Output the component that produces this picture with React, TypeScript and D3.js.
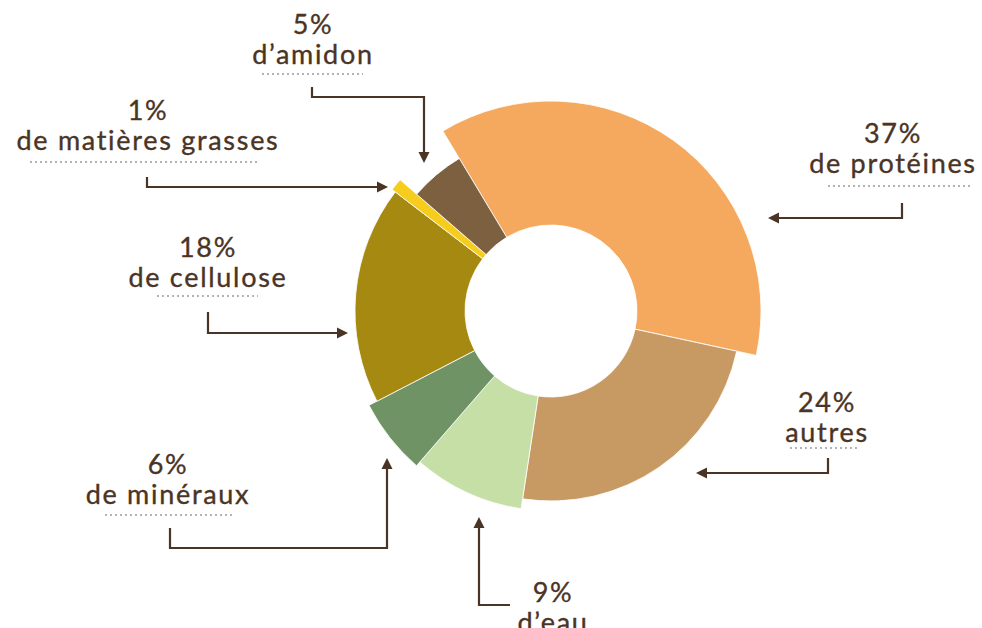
import * as d3 from 'd3';

// ---------------------------------------------------------------------------
// Data
// ---------------------------------------------------------------------------
const PERCENTS = ['37%', '24%', '9%', '6%', '18%', '1%', '5%'];
const LABELS = ['de protéines', 'autres', 'd’eau', 'de minéraux', 'de cellulose', 'de matières grasses', 'd’amidon'];
const VALUES = [37, 24, 9, 6, 18, 1, 5];

// ---------------------------------------------------------------------------
// Styles
// ---------------------------------------------------------------------------
const COLORS = ['#f5a95e', '#c79a63', '#c6dfa6', '#6f9365', '#a68911', '#f6cd1c', '#7d6040'];
const OUTER_R = [210, 190, 200, 205, 196, 200, 178];
const INNER_R = 86;
const TEXT_COLOR = '#4a3425';
const DOT_COLOR = '#9a9a9a';
const FONT = 'Lato, "Open Sans", sans-serif';

const W = 982;
const H = 628;
const CX = 551;
const CY = 311;

// annotation layout: label centre, first baseline, underline span, leader path
const ANNOTATIONS = [
  { x: 893, y: 143, ul: [828, 970, 186], path: [[902, 203], [902, 218], [768, 218]] },
  { x: 827, y: 412, ul: [790, 859, 448], path: [[828, 458], [828, 473], [696, 473]] },
  { x: 553, y: 602, ul: null, path: [[510, 605], [479, 605], [479, 517]] },
  { x: 168, y: 474, ul: [105, 235, 515], path: [[170, 528], [170, 548], [387, 548], [387, 458]] },
  { x: 208, y: 257, ul: [157, 258, 296], path: [[208, 312], [208, 333], [348, 333]] },
  { x: 148, y: 120, ul: [30, 260, 162], path: [[147, 177], [147, 187], [388, 187]] },
  { x: 313, y: 34, ul: [262, 363, 74], path: [[312, 87], [312, 97], [424, 97], [424, 163]] },
];

function Arrow({ pts }: { pts: number[][] }) {
  const line = d3.line();
  const n = pts.length;
  const [x1, y1] = pts[n - 2];
  const [x2, y2] = pts[n - 1];
  const rad = Math.atan2(y2 - y1, x2 - x1);
  const shaft = pts.slice(0, n - 1).concat([[x2 - 8 * Math.cos(rad), y2 - 8 * Math.sin(rad)]]);
  return (
    <g>
      <path d={line(shaft as [number, number][]) ?? ''} fill="none" stroke={TEXT_COLOR} strokeWidth={2.2} />
      <path
        d="M0,0 L-11,-5.5 L-11,5.5 Z"
        fill={TEXT_COLOR}
        transform={`translate(${x2},${y2}) rotate(${(rad * 180) / Math.PI})`}
      />
    </g>
  );
}

export default function App() {
  const start = (-31 * Math.PI) / 180;
  const pie = d3
    .pie<number>()
    .sort(null)
    .value((d) => d)
    .startAngle(start)
    .endAngle(start + 2 * Math.PI);
  const arcs = pie(VALUES);
  const arc = d3.arc<d3.PieArcDatum<number>>();

  return (
    <svg width={W} height={H} style={{ position: 'absolute', left: 0, top: 0, background: '#fff' }}>
      <g transform={`translate(${CX},${CY})`}>
        {arcs.map((a, i) => (
          <path
            key={LABELS[i]}
            d={arc({ ...a, innerRadius: INNER_R, outerRadius: OUTER_R[i] } as any) ?? ''}
            fill={COLORS[i]}
            stroke="#fff"
            strokeWidth={0.8}
          />
        ))}
      </g>
      {ANNOTATIONS.map((an, i) => (
        <g key={i}>
          <text
            x={an.x}
            y={an.y}
            textAnchor="middle"
            fontFamily={FONT}
            fontSize={27}
            fill={TEXT_COLOR}
            stroke={TEXT_COLOR}
            strokeWidth={0.35}
            letterSpacing={1.7}
          >
            <tspan x={an.x}>{PERCENTS[i]}</tspan>
            <tspan x={an.x} dy={30}>
              {LABELS[i]}
            </tspan>
          </text>
          {an.ul && (
            <line
              x1={an.ul[0]}
              x2={an.ul[1]}
              y1={an.ul[2]}
              y2={an.ul[2]}
              stroke={DOT_COLOR}
              strokeWidth={1.5}
              strokeDasharray="2,3"
            />
          )}
          <Arrow pts={an.path} />
        </g>
      ))}
    </svg>
  );
}
